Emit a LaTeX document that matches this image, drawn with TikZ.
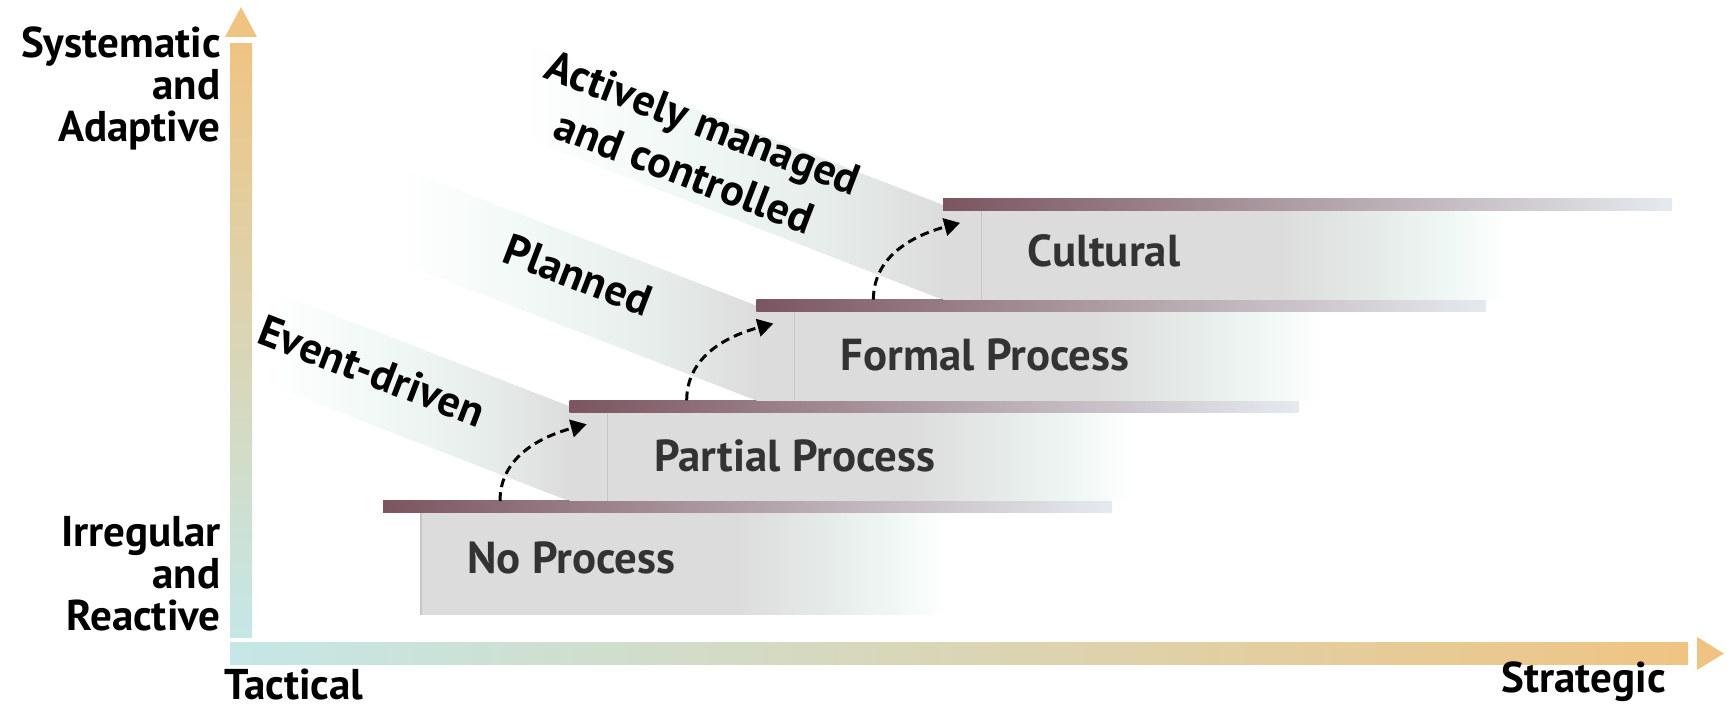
\documentclass[tikz,border=0pt]{standalone}
\usepackage{fontspec}
\setmainfont{PT Sans}
\usepackage{tikz}
\usetikzlibrary{arrows.meta}

\definecolor{axislow}{HTML}{C5E7E7}
\definecolor{axishigh}{HTML}{EFC483}
\definecolor{bardark}{HTML}{7B5560}
\definecolor{barlight}{HTML}{E5EAEE}
\definecolor{stepgray}{HTML}{DCDCDC}
\definecolor{fademid}{HTML}{E6ECE9}
\definecolor{fadelight}{HTML}{F0F8F5}
\definecolor{labelgray}{HTML}{333333}

\pgfdeclarehorizontalshading{boxfade}{100bp}{color(0bp)=(stepgray); color(25bp)=(stepgray); color(55bp)=(stepgray); color(64bp)=(fademid); color(70bp)=(fadelight); color(75bp)=(white); color(100bp)=(white)}
\pgfdeclarehorizontalshading{bandfade}{100bp}{color(0bp)=(white); color(25bp)=(white); color(45bp)=(fadelight); color(62bp)=(fademid); color(75bp)=(stepgray); color(100bp)=(stepgray)}

\begin{document}
\begin{tikzpicture}[x=0.02cm,y=0.02cm,
	stepbar/.style={left color=bardark,right color=barlight},
	stepbox/.style={shading=boxfade},
	stepband/.style={shading=bandfade},
	steplabel/.style={anchor=west,inner sep=0pt,text=labelgray,font=\fontsize{25.5}{30}\selectfont\bfseries},
	axislabel/.style={inner sep=0pt,align=right,font=\fontsize{24.5}{24}\selectfont\bfseries},
	bandlabel/.style={inner sep=0pt,rotate=-21,align=center,font=\fontsize{25}{30}\selectfont\bfseries},
	levelarrow/.style={line width=1.7pt,dash pattern=on 5pt off 3pt,-{Triangle[length=9pt,width=10pt]}}]
					% Canvas
					\useasboundingbox (0,0) rectangle (1727,709);
					% Axes
					\shade[bottom color=axislow,top color=axishigh] (230,71) rectangle (252,665);
					\fill[axishigh] (225,672) -- (257,672) -- (241,702) -- cycle;
					\shade[left color=axislow,right color=axishigh] (230,44.5) rectangle (1688,66.5);
					\fill[axishigh] (1697,39) -- (1697,72) -- (1724,55.5) -- cycle;
					% Diagonal bands
					\foreach \i/\len in {1/300,2/360,3/425}{
						\pgfmathsetmacro{\L}{383+186.7*\i}
						\pgfmathsetmacro{\T}{208+100.7*\i}
						\shade[stepband] (\L-\len,\T-6+0.387*\len) -- (\L,\T-6) -- (\L,\T-101) -- (\L-\len,\T-101+0.387*\len) -- cycle;}
					% Steps
					\foreach \i/\lbl/\dy in {0/No Process/6,1/Partial Process/1,2/Formal Process/1,3/Cultural/4}{
						\pgfmathsetmacro{\L}{383+186.7*\i}
						\pgfmathsetmacro{\T}{208+100.7*\i}
						\pgfmathsetmacro{\B}{ifthenelse(\i==0,94,\T-100.7)}
						\pgfmathsetmacro{\S}{ifthenelse(\i==0,\L+38,\L)}
						\shade[stepbox] (\S,\B) rectangle (\L+565,\T-12);
						\draw[gray!45,line width=0.6pt] (\L+38,\B) -- (\L+38,\T-12);
						\shade[stepbar] (\L,\T-12) rectangle (\L+729,\T);
						\node[steplabel] (step\i) at (\L+84,{(\B+\T-12)/2+\dy}) {\lbl};
						\coordinate (up\i) at (\L+117,\T);
						\coordinate (in\i) at (\L+17,\T-24);}
					% Band labels
					\node[bandlabel] (evt) at (372,338) {Event-driven};
					\node[bandlabel] (plan) at (578,434) {Planned};
					\node[bandlabel] (ctrl) at (694,562) {Actively managed\\and controlled};
					% Axis labels
					\node[axislabel,anchor=north east] (sysad) at (221,683) {Systematic\\and\\Adaptive};
					\node[axislabel,anchor=north east] (irre) at (221,193) {Irregular\\and\\Reactive};
					\node[axislabel,anchor=base west] (tact) at (224,9) {Tactical};
					\node[axislabel,anchor=base east] (strat) at (1666,16) {Strategic};
					% Arrows
					\foreach \i/\j in {0/1,1/2,2/3}
						\draw[levelarrow] (up\i) to[out=90,in=195] (in\j);
				\end{tikzpicture}
\end{document}
